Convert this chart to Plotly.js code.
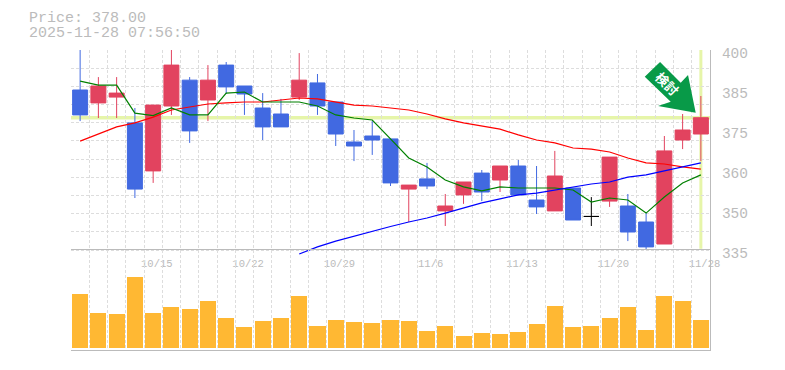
<!DOCTYPE html>
<html><head><meta charset="utf-8">
<script src="https://cdn.plot.ly/plotly-3.0.1.min.js"></script>
<style>html,body{margin:0;padding:0;background:#fff}#c{width:785px;height:370px}</style>
</head><body><div id="c"></div>
<script>
const dayIndex=[...Array(35).keys()];
const opens =[387.0,382.8,384.7,376.3,360.7,381.8,390.2,383.75,395.1,388.3,381.15,379.2,384.7,389.3,383.1,370.1,372.05,371.1,354.8,358.1,347.7,352.9,360.0,357.75,362.3,351.25,347.7,355.15,345.9,350.9,349.3,344.1,336.95,370.75,372.7];
const closes=[378.9,388.3,386.0,354.8,382.1,395.1,373.7,390.2,388.0,385.7,375.0,375.0,390.2,381.8,372.7,368.8,370.75,356.8,356.1,355.8,349.3,357.1,353.85,362.3,352.9,349.0,359.05,344.75,345.9,365.2,340.85,336.0,367.2,374.0,378.0];
const highs =[400,391.2,391.2,381.15,382.1,400,391.2,395.1,396.1,388.3,386.0,384.1,399.0,392.2,383.1,374.0,376.9,371.1,356.1,363.3,353.2,357.1,361.0,362.3,364.25,362.3,367.2,355.15,352.2,365.2,353.2,347.0,372.05,379.2,385.05];
const lows  =[376.9,377.9,377.9,351.9,356.8,378.9,369.8,376.9,385.7,378.9,370.75,375.0,383.75,378.9,368.8,363.9,365.9,355.8,344.1,354.8,342.8,350.0,350.9,353.85,352.9,346.7,347.7,344.75,342.8,349.0,337.9,335,336.95,367.8,363.9];
const maShort=[389.9,388.6,388.6,379.5,378.7,381.15,378.9,378.9,386.0,386.35,383.1,383.1,383.1,381.8,378.9,377.9,377.25,371.1,364.9,362.0,357.75,355.5,354.2,355.5,355.15,355.15,355.15,354.5,350.6,351.9,351.25,347.0,352.2,356.8,359.4];
const maMid=[370.4,372.7,375.0,376.3,378.2,380.5,381.5,382.45,382.8,383.1,383.1,383.75,384.4,384.1,383.1,382.1,381.8,381.15,380.5,379.2,377.6,376.3,375.3,374.3,372.4,370.75,369.8,368.15,367.8,366.85,364.9,363.3,362.95,362.0,361.3];
const maLongStart=12;
const maLong=[333.7,336.0,337.9,339.55,341.2,342.65,344.1,345.4,347.0,348.65,350.3,351.6,352.9,353.5,354.5,355.5,356.45,357.1,358.7,359.4,360.7,362.0,363.3];
const volumes=[54,35,34,71,35,41,39,47,30,21,27,30,52,22,28,26,25,28,27,17,22,12,15,14,16,24,42,21,22,30,41,18,52,47,28];
const dateLabels=['10/15','10/22','10/29','11/6','11/13','11/20','11/28'];
const dateLabelIdx=[4,9,14,19,24,29,34];
const priceLabels=['400','385','375','360','350','335'];
const priceLabelAt=[400,387,374,361,348,335];
const lastPrice=378.00;
const stamp='2025-11-28 07:56:50';
const mark='検討';

const W=785,H=370,L=70.5,R=710,T=50,B=350;
const px=x=>(x-L)/(R-L), py=y=>1-(y-T)/(B-T);
const dash='3px,2px', gc='#dddddd', axc='#bbbbbb', tc='#bbbbbb', mono='"Liberation Mono","DejaVu Sans Mono",monospace';
const isDoji=dayIndex.map(i=>opens[i]===closes[i]);
const pick=(a,f)=>a.filter((_,i)=>f(i));
const n=i=>!isDoji[i], d=i=>isDoji[i];
const cs=(f,inc,dec)=>({type:'candlestick',x:pick(dayIndex,f),open:pick(opens,f),close:pick(closes,f),high:pick(highs,f),low:pick(lows,f),
  increasing:{line:{color:inc,width:1},fillcolor:inc},decreasing:{line:{color:dec,width:1},fillcolor:dec},whiskerwidth:0,xaxis:'x',yaxis:'y',hoverinfo:'skip'});
const ln=(x,y,c)=>({type:'scatter',mode:'lines',x,y,line:{color:c,width:1.2,shape:'linear'},xaxis:'x',yaxis:'y',hoverinfo:'skip'});
const traces=[
  {type:'bar',x:dayIndex,y:volumes,marker:{color:'#ffb833',line:{width:0}},width:0.88,xaxis:'x2',yaxis:'y2',hoverinfo:'skip'},
  cs(n,'#e2435f','#4169e1'),
  cs(d,'#000000','#000000'),
  ln(dayIndex,maMid,'#ff0000'),
  ln(dayIndex,maShort,'#008000'),
  ln(dayIndex.slice(maLongStart),maLong,'#0000ff')
];
const xbase={range:[-0.5,34.5],fixedrange:true,showgrid:false,zeroline:false,
  minor:{tick0:-0.5,dtick:1,showgrid:true,gridcolor:gc,griddash:dash,gridwidth:1,ticks:''}};
const hl='#e6f5a9';
const arrow=[[660,62],[644.7,76.7],[670.7,101.7],[658,106],[695.7,112.7],[688,75],[680.7,82.7]];
const layout={width:W,height:H,margin:{l:L,r:W-R,t:T,b:H-B,pad:0},paper_bgcolor:'#fff',plot_bgcolor:'rgba(0,0,0,0)',showlegend:false,boxgap:0.18,boxgroupgap:0,bargap:0,
  font:{family:mono,color:tc},
  xaxis:{...xbase,domain:[0,1],anchor:'y',rangeslider:{visible:false},showline:false,ticks:'',
    tickmode:'array',tickvals:dateLabelIdx.map(i=>i+0.2),ticktext:dateLabels,tickfont:{family:mono,size:10.5,color:tc},ticklabelstandoff:0},
  xaxis2:{...xbase,domain:[0,1],anchor:'y2',showticklabels:false,showline:true,linecolor:axc,linewidth:1,mirror:true,rangeslider:{visible:false}},
  yaxis:{domain:[(B-255)/(B-T),1],range:[400-(255-T)*0.325,400],fixedrange:true,side:'right',showgrid:false,zeroline:false,showline:true,linecolor:axc,linewidth:1,ticks:'',
    tickmode:'array',tickvals:priceLabelAt.map(v=>v-1),ticktext:priceLabels,ticklabelstandoff:8,tickfont:{family:mono,size:14.5,color:tc},
    minor:{tick0:335,dtick:65/11,showgrid:true,gridcolor:gc,griddash:dash,gridwidth:1,ticks:''}},
  yaxis2:{domain:[0,(B-250)/(B-T)],range:[-2,98],fixedrange:true,showgrid:false,zeroline:false,showticklabels:false,ticks:'',side:'right',showline:true,linecolor:axc,linewidth:1,anchor:'x2'},
  shapes:[
    {type:'line',xref:'paper',x0:0,x1:1,yref:'y',y0:lastPrice,y1:lastPrice,line:{color:hl,width:3.5},layer:'below'},
    {type:'line',xref:'x',x0:34,x1:34,yref:'y',y0:335.4,y1:400,line:{color:hl,width:3},layer:'below'},
    {type:'path',xref:'paper',yref:'paper',layer:'above',fillcolor:'#089a48',line:{width:0},
     path:'M'+arrow.map(p=>px(p[0])+','+py(p[1])).join('L')+'Z'}
  ],
  annotations:[
    {xref:'paper',yref:'paper',x:px(27.5),y:py(18.5),xanchor:'left',yanchor:'middle',showarrow:false,borderpad:0,text:'Price: '+lastPrice.toFixed(2),font:{family:mono,size:15,color:tc}},
    {xref:'paper',yref:'paper',x:px(27.5),y:py(33.5),xanchor:'left',yanchor:'middle',showarrow:false,borderpad:0,text:stamp,font:{family:mono,size:15,color:tc}},
    {xref:'paper',yref:'paper',x:px(667),y:py(84),xanchor:'center',yanchor:'middle',showarrow:false,text:'<b>'+mark+'</b>',textangle:45,font:{family:'"Noto Sans CJK JP"',size:13,color:'#fff'}}
  ]
};
Plotly.newPlot('c',traces,layout,{displayModeBar:false,staticPlot:true});
</script></body></html>
